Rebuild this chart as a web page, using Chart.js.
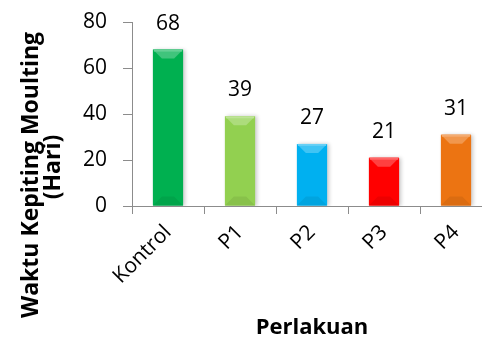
<!DOCTYPE html>
<html><head><meta charset="utf-8">
<script src="https://cdn.jsdelivr.net/npm/chart.js@4"></script>
<style>html,body{margin:0;padding:0;overflow:hidden;background:#fff}#wrap{width:500px;height:339px}</style>
</head><body><div id="wrap"><canvas id="c" width="500" height="339"></canvas></div>
<script>
const categories = ['Kontrol', 'P1', 'P2', 'P3', 'P4'];
const moultingDays = [68, 39, 27, 21, 31];
const barColors = ['#00b050', '#92d050', '#00b0f0', '#ff0000', '#ec7412'];
const yTicks = [0, 20, 40, 60, 80];
const yTitleLines = ['Waktu Kepiting Moulting', '(Hari)'];
const xTitle = 'Perlakuan';

const FONT = '"Open Sans"';

function mix(hex, target, t) {
  const n = parseInt(hex.slice(1), 16);
  const r = (n >> 16) & 255, g = (n >> 8) & 255, b = n & 255;
  const m = v => Math.round(v + (target - v) * t);
  return `rgb(${m(r)},${m(g)},${m(b)})`;
}

// horizontal shading for a bevelled bar look
function barFill(ctx) {
  const chart = ctx.chart;
  const el = ctx.element;
  const base = barColors[ctx.dataIndex];
  if (!el || !Number.isFinite(el.x) || !Number.isFinite(el.width) || el.width <= 0) return base;
  const half = el.width / 2;
  const g = chart.ctx.createLinearGradient(el.x - half, 0, el.x + half, 0);
  g.addColorStop(0, mix(base, 0, 0.2));
  g.addColorStop(0.1, base);
  g.addColorStop(0.88, base);
  g.addColorStop(1, mix(base, 0, 0.3));
  return g;
}

// soft drop shadow behind the bars
const shadowPlugin = {
  id: 'barShadow',
  beforeDatasetDraw(chart) {
    const ctx = chart.ctx;
    ctx.save();
    ctx.shadowColor = 'rgba(0,0,0,0.22)';
    ctx.shadowBlur = 4;
    ctx.shadowOffsetX = 2;
    ctx.shadowOffsetY = 0;
  },
  afterDatasetDraw(chart) {
    chart.ctx.restore();
  }
};

const bevelPlugin = {
  id: 'bevel',
  afterDatasetsDraw(chart) {
    const ctx = chart.ctx;
    const meta = chart.getDatasetMeta(0);
    meta.data.forEach((bar, i) => {
      const base = barColors[i];
      const half = bar.width / 2;
      const l = bar.x - half, r = bar.x + half, t = bar.y, b = bar.base;
      ctx.save();
      ctx.fillStyle = mix(base, 255, 0.25);
      ctx.beginPath();
      ctx.moveTo(l, t); ctx.lineTo(r, t); ctx.lineTo(r - 9, t + 9); ctx.lineTo(l + 9, t + 9); ctx.closePath();
      ctx.fill();
      ctx.fillStyle = mix(base, 255, 0.4);
      ctx.fillRect(l + 1, t, r - l - 2, 2);
      ctx.fillStyle = mix(base, 0, 0.07);
      ctx.beginPath();
      ctx.moveTo(l, b); ctx.lineTo(r, b); ctx.lineTo(r - 9, b - 9); ctx.lineTo(l + 9, b - 9); ctx.closePath();
      ctx.fill();
      ctx.restore();
    });
  }
};

const valueLabelPlugin = {
  id: 'valueLabels',
  afterDatasetsDraw(chart) {
    const ctx = chart.ctx;
    const meta = chart.getDatasetMeta(0);
    ctx.save();
    ctx.font = `21px ${FONT}`;
    ctx.fillStyle = '#000';
    ctx.textAlign = 'center';
    ctx.textBaseline = 'middle';
    meta.data.forEach((bar, i) => {
      ctx.fillText(String(moultingDays[i]), bar.x, bar.y - 26);
    });
    ctx.restore();
  }
};

const yTitlePlugin = {
  id: 'yTitle',
  afterDraw(chart) {
    const ctx = chart.ctx;
    ctx.save();
    ctx.font = `bold 23px ${FONT}`;
    ctx.fillStyle = '#000';
    ctx.textAlign = 'center';
    ctx.textBaseline = 'alphabetic';
    const pos = [[38, 175], [60, 167]];
    yTitleLines.forEach((line, i) => {
      ctx.save();
      ctx.translate(pos[i][0], pos[i][1]);
      ctx.rotate(-Math.PI / 2);
      ctx.fillText(line, 0, 0);
      ctx.restore();
    });
    ctx.restore();
  }
};

new Chart(document.getElementById('c'), {
  type: 'bar',
  data: {
    labels: categories,
    datasets: [{
      data: moultingDays,
      backgroundColor: barFill,
      borderWidth: 0,
      categoryPercentage: 1,
      barPercentage: 0.42
    }]
  },
  options: {
    responsive: false,
    animation: false,
    layout: { padding: { top: 22, right: 8, left: 0, bottom: 0 } },
    plugins: { legend: { display: false }, tooltip: { enabled: false } },
    scales: {
      y: {
        min: 0, max: 80,
        afterBuildTicks(scale) { scale.ticks = yTicks.map(v => ({ value: v })); },
        afterFit(scale) {
          scale.width = 132;
          scale.paddingTop = 0;
          scale.paddingBottom = 0;
        },
        border: { display: true, color: '#8c8c8c', width: 1 },
        grid: { display: true, drawOnChartArea: false, drawTicks: true, tickLength: 9, color: '#8c8c8c' },
        ticks: { font: { family: 'Open Sans', size: 21 }, color: '#000', padding: 16 }
      },
      x: {
        afterFit(scale) { scale.height = 133; },
        border: { display: true, color: '#8c8c8c', width: 1 },
        grid: { display: true, offset: true, drawOnChartArea: false, drawTicks: true, tickLength: 8, color: '#8c8c8c' },
        ticks: { font: { family: 'Open Sans', size: 21 }, color: '#000', minRotation: 45, maxRotation: 45, padding: 6 },
        title: { display: true, text: xTitle, font: { family: 'Open Sans', size: 22, weight: 'bold', lineHeight: 1 }, color: '#000', padding: { top: 0, bottom: 0 } }
      }
    }
  },
  plugins: [shadowPlugin, bevelPlugin, valueLabelPlugin, yTitlePlugin]
});
</script>
</body></html>
